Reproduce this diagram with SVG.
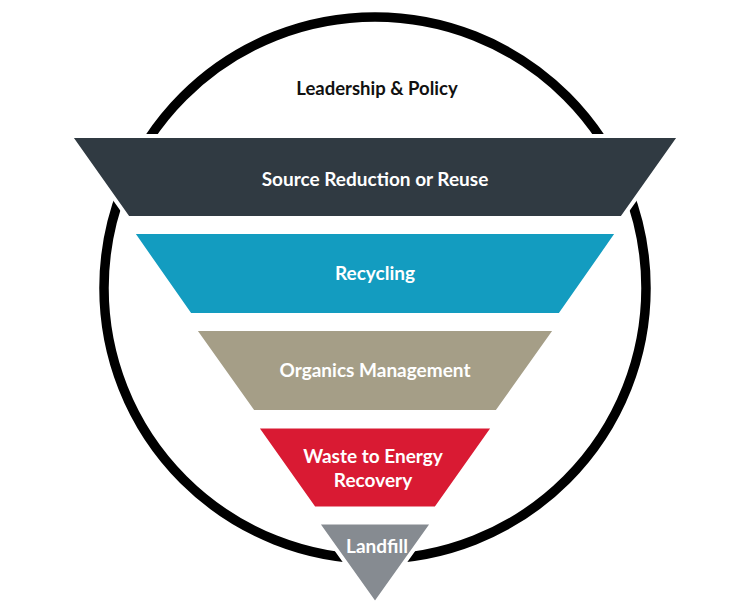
<svg xmlns="http://www.w3.org/2000/svg" width="750" height="615" viewBox="0 0 750 615">
<style>
.band{stroke:#ffffff;stroke-width:4;stroke-linejoin:miter}
.lbl{font-family:Lato,"Open Sans","Liberation Sans",sans-serif;font-weight:bold;font-size:19px;fill:#ffffff;text-anchor:middle}
.title{font-family:Lato,"Open Sans","Liberation Sans",sans-serif;font-weight:bold;font-size:18.5px;fill:#111111;text-anchor:middle}
</style>
<rect width="750" height="615" fill="#ffffff"/>
<g id="circle">
<circle cx="375" cy="288" r="271" fill="none" stroke="#000000" stroke-width="9.5"/>
<text class="title" x="377" y="94.5">Leadership &amp; Policy</text>
</g>
<g id="source-reduction">
<polygon class="band" fill="#303a42" points="70,136 680,136 622,218 128,218"/>
<text class="lbl" x="375" y="185.5">Source Reduction or Reuse</text>
</g>
<g id="recycling">
<polygon class="band" fill="#139cc0" points="132,232 618,232 560,315 190,315"/>
<text class="lbl" x="375" y="279.5">Recycling</text>
</g>
<g id="organics">
<polygon class="band" fill="#a59e87" points="194,329 556,329 497,412 253,412"/>
<text class="lbl" x="375" y="377">Organics Management</text>
</g>
<g id="waste-to-energy">
<polygon class="band" fill="#d91a33" points="256,426.5 494,426.5 436,508.5 314,508.5"/>
<text class="lbl" x="373" y="462.5">Waste to Energy</text>
<text class="lbl" x="373" y="486.5">Recovery</text>
</g>
<g id="landfill">
<polygon class="band" fill="#868b91" points="317,522.5 433,522.5 375,604"/>
<text class="lbl" x="377" y="553">Landfill</text>
</g>
<g id="connectors"/>
</svg>
